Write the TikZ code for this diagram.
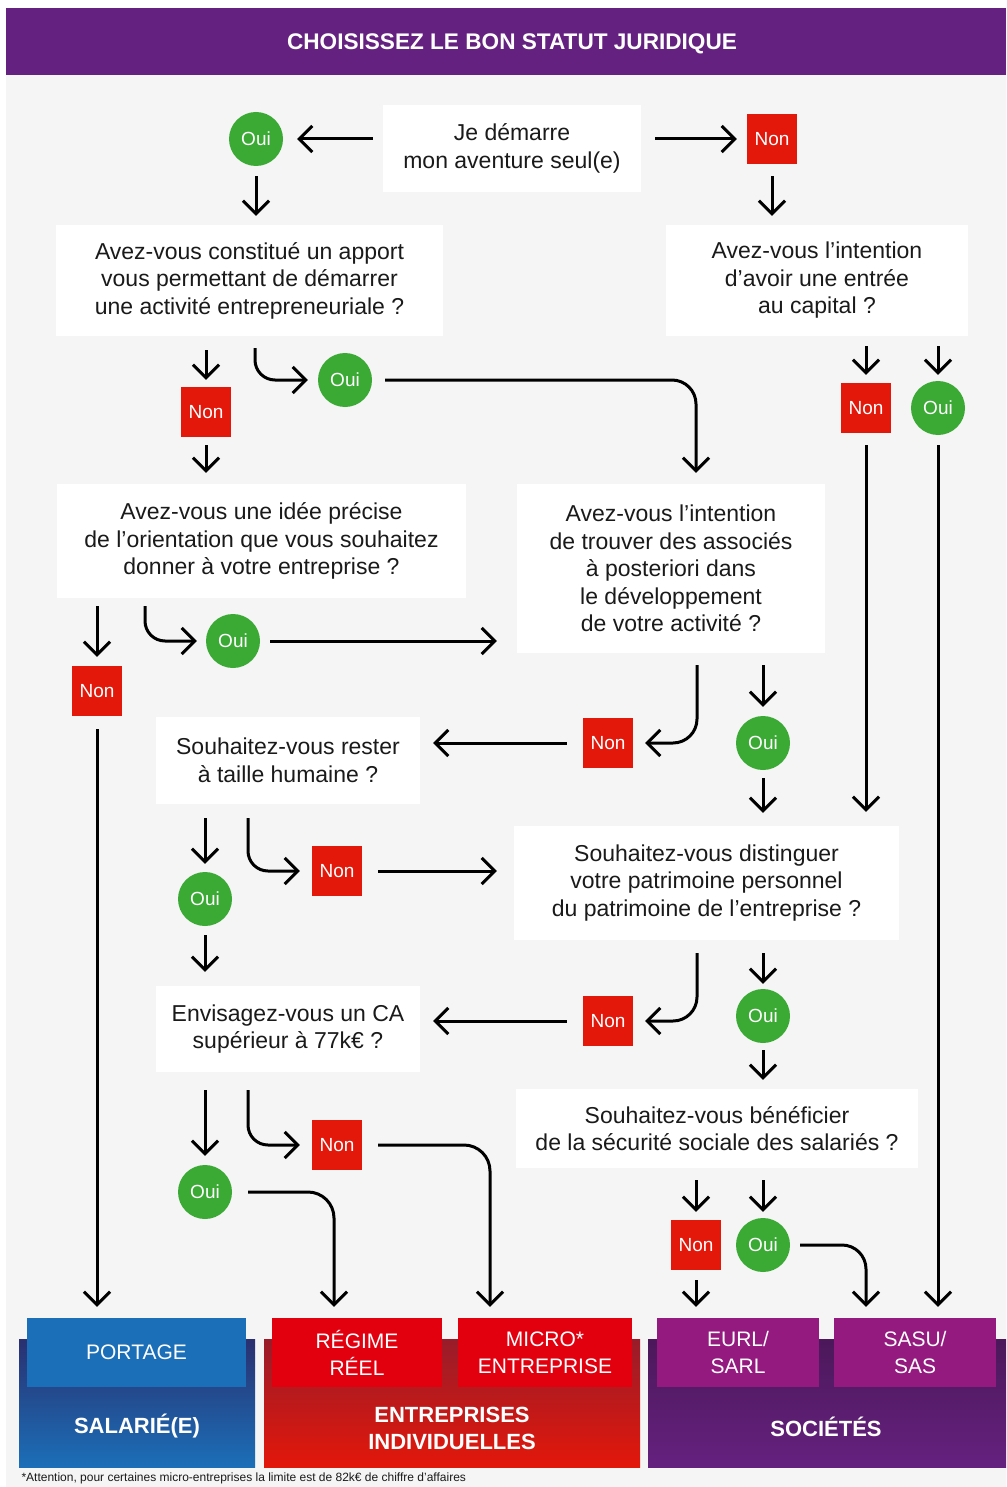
\documentclass[tikz,border=0pt]{standalone}
\usepackage{fontspec}
\setmainfont{Liberation Sans}
\usetikzlibrary{arrows.meta}
\definecolor{statutPurple}{HTML}{65217F}
\definecolor{statutGray}{HTML}{F5F5F5}
\definecolor{statutInk}{HTML}{1A1A1A}
\definecolor{statutGreen}{HTML}{3AAA35}
\definecolor{statutRed}{HTML}{E3170A}
\definecolor{statutBlue}{HTML}{1B6FB8}
\definecolor{statutNavy}{HTML}{2A3070}
\definecolor{statutCrimson}{HTML}{E2000F}
\definecolor{statutWine}{HTML}{981C2A}
\definecolor{statutViolet}{HTML}{941A80}
\definecolor{statutPlum}{HTML}{4C185A}
\tikzset{
  qbox/.style={fill=white, align=center, inner sep=0pt, text=statutInk, font=\fontsize{23}{27.5}\selectfont},
  oui/.style={circle, fill=statutGreen, minimum size=54pt, inner sep=0pt, text=white, font=\fontsize{19}{22}\selectfont},
  non/.style={fill=statutRed, minimum size=50pt, inner sep=0pt, text=white, font=\fontsize{19}{22}\selectfont},
  flow/.style={-{Straight Barb[length=13pt,width=26pt]}, line width=3pt, shorten <=12pt, shorten >=9pt},
  res/.style={minimum height=69pt, inner sep=0pt, text=white, align=center, font=\fontsize{21}{27}\selectfont},
  cat/.style={text=white, align=center, font=\bfseries\fontsize{22}{27}\selectfont},
}
\begin{document}
\begin{tikzpicture}[x=1pt, y=-1pt]
  \useasboundingbox (0,0) rectangle (1006,1487);
  % background and title
  \fill[statutGray] (6,75) rectangle (1006,1487);
  \fill[statutPurple] (6,8) rectangle (1006,75);
  \node[cat, font=\bfseries\fontsize{22.6}{26}\selectfont] (titre) at (512,44) {CHOISISSEZ LE BON STATUT JURIDIQUE};
  % questions
  \node[qbox, minimum width=258pt, minimum height=87pt] (q1) at (512,148.5) {Je démarre\\mon aventure seul(e)};
  \node[qbox, minimum width=387pt, minimum height=111pt] (q2) at (249.5,280.5) {Avez-vous constitué un apport\\vous permettant de démarrer\\une activité entrepreneuriale ?};
  \node[qbox, minimum width=302pt, minimum height=111pt] (q3) at (817,280.5) {Avez-vous l’intention\\d’avoir une entrée\\au capital ?};
  \node[qbox, minimum width=409pt, minimum height=114pt] (q4) at (261.5,541) {Avez-vous une idée précise\\de l’orientation que vous souhaitez\\donner à votre entreprise ?};
  \node[qbox, minimum width=308pt, minimum height=169pt] (q5) at (671,568.5) {Avez-vous l’intention\\de trouver des associés\\à posteriori dans\\le développement\\de votre activité ?};
  \node[qbox, minimum width=264pt, minimum height=87pt] (q6) at (288,760.5) {Souhaitez-vous rester\\à taille humaine ?};
  \node[qbox, minimum width=385pt, minimum height=114pt] (q7) at (706.5,883) {Souhaitez-vous distinguer\\votre patrimoine personnel\\du patrimoine de l’entreprise ?};
  \node[qbox, minimum width=264pt, minimum height=86pt] (q8) at (288,1029) {Envisagez-vous un CA\\supérieur à 77k€ ?};
  \node[qbox, minimum width=402pt, minimum height=79pt] (q9) at (717,1128.5) {Souhaitez-vous bénéficier\\de la sécurité sociale des salariés ?};
  % answers
  \node[oui] (o1) at (256,139) {Oui};
  \node[oui] (o2) at (345,380) {Oui};
  \node[oui] (o3) at (938,408) {Oui};
  \node[oui] (o4) at (233,641) {Oui};
  \node[oui] (o5) at (763,743) {Oui};
  \node[oui] (o6) at (205,899) {Oui};
  \node[oui] (o7) at (763,1016) {Oui};
  \node[oui] (o8) at (205,1192) {Oui};
  \node[oui] (o9) at (763,1245) {Oui};
  \node[non] (n1) at (772,139) {Non};
  \node[non] (n2) at (206,412) {Non};
  \node[non] (n3) at (866,408) {Non};
  \node[non] (n4) at (97,691) {Non};
  \node[non] (n5) at (608,743) {Non};
  \node[non] (n6) at (337,871) {Non};
  \node[non] (n7) at (608,1021) {Non};
  \node[non] (n8) at (337,1145) {Non};
  \node[non] (n9) at (696,1245) {Non};
  % categories
  \shade[top color=statutNavy, bottom color=statutBlue] (19,1339) rectangle (255,1467);
  \shade[top color=statutWine, bottom color=statutRed] (264,1339) rectangle (640,1467);
  \shade[top color=statutPlum, bottom color=statutPurple] (648,1339) rectangle (1006,1467);
  \node[cat] (salarie) at (137,1426) {SALARIÉ(E)};
  \node[cat] (indiv) at (452,1428.5) {ENTREPRISES\\INDIVIDUELLES};
  \node[cat] (societes) at (826,1427) {SOCIÉTÉS};
  \node[res, fill=statutBlue, minimum width=219pt] (r1) at (136.5,1352.5) {PORTAGE};
  \node[res, fill=statutCrimson, minimum width=170pt] (r2) at (357,1352.5) {RÉGIME\\RÉEL};
  \node[res, fill=statutCrimson, minimum width=174pt] (r3) at (545,1352.5) {MICRO*\\ENTREPRISE};
  \node[res, fill=statutViolet, minimum width=162pt] (r4) at (738,1352.5) {EURL/\\SARL};
  \node[res, fill=statutViolet, minimum width=162pt] (r5) at (915,1352.5) {SASU/\\SAS};
  \node[anchor=west, text=statutInk, font=\fontsize{12}{14}\selectfont] (note) at (18,1478) {*Attention, pour certaines micro-entreprises la limite est de 82k€ de chiffre d’affaires};
  % connectors
  \draw[flow, shorten <=10pt, shorten >=14pt] (q1.west |- o1) -- (o1);
  \draw[flow, shorten <=14pt, shorten >=10pt] (q1.east |- n1) -- (n1);
  \draw[flow, shorten <=10pt] (o1) -- (o1 |- q2.north);
  \draw[flow] (n1) -- (n1 |- q3.north);
  \draw[flow, shorten <=14pt, shorten >=7pt] (q2.south -| n2) -- (n2);
  \draw[flow, rounded corners=20pt, shorten >=10pt] ([xshift=49pt]n2.center |- q2.south) |- (o2);
  \draw[flow, rounded corners=24pt, shorten <=13pt, shorten >=11pt] (o2) -| ([xshift=25pt]q5.north);
  \draw[flow, shorten <=8pt, shorten >=11pt] (n2) -- (n2 |- q4.north);
  \draw[flow, shorten <=10pt, shorten >=8pt] (q3.south -| n3) -- (n3);
  \draw[flow, shorten <=10pt, shorten >=6pt] (q3.south -| o3) -- (o3);
  \draw[flow, shorten >=14pt] (n3) -- (n3 |- q7.north);
  \draw[flow, shorten <=10pt, shorten >=11pt] (o3) -- (o3 |- r5.north);
  \draw[flow, shorten <=8pt] (q4.south -| n4) -- (n4);
  \draw[flow, rounded corners=20pt, shorten <=8pt, shorten >=9pt] ([xshift=48pt]n4.center |- q4.south) |- (o4);
  \draw[flow, shorten <=10pt, shorten >=20pt] (o4) -- (o4 -| q5.west);
  \draw[flow, shorten <=13pt, shorten >=11pt] (n4) -- (n4 |- r1.north);
  \draw[flow, rounded corners=24pt, shorten >=12pt] ([xshift=26pt]q5.south) |- (n5);
  \draw[flow] (q5.south -| o5) -- (o5);
  \draw[flow, shorten <=8pt, shorten >=13pt] (o5) -- (o5 |- q7.north);
  \draw[flow, shorten <=16pt, shorten >=13pt] (n5) -- (n5 -| q6.east);
  \draw[flow, shorten <=14pt, shorten >=8pt] (q6.south -| o6) -- (o6);
  \draw[flow, rounded corners=20pt, shorten <=14pt, shorten >=12pt] ([xshift=43pt]o6.center |- q6.south) |- (n6);
  \draw[flow, shorten <=16pt, shorten >=17pt] (n6) -- (n6 -| q7.west);
  \draw[flow, shorten <=9pt, shorten >=14pt] (o6) -- (o6 |- q8.north);
  \draw[flow, rounded corners=24pt, shorten <=13pt, shorten >=12pt] ([xshift=-9.5pt]q7.south) |- (n7);
  \draw[flow, shorten <=13pt, shorten >=5pt] (q7.south -| o7) -- (o7);
  \draw[flow, shorten <=7pt] (o7) -- (o7 |- q9.north);
  \draw[flow, shorten <=16pt, shorten >=13pt] (n7) -- (n7 -| q8.east);
  \draw[flow, shorten <=18pt] (q8.south -| o8) -- (o8);
  \draw[flow, rounded corners=20pt, shorten <=18pt, shorten >=12pt] ([xshift=43pt]o8.center |- q8.south) |- (n8);
  \draw[flow, rounded corners=26pt, shorten <=16pt, shorten >=11pt] (o8) -| ([xshift=-23pt]r2.north);
  \draw[flow, rounded corners=26pt, shorten <=16pt, shorten >=11pt] (n8) -| ([xshift=-55pt]r3.north);
  \draw[flow, shorten >=8pt] (q9.south -| n9) -- (n9);
  \draw[flow, shorten >=6pt] (q9.south -| o9) -- (o9);
  \draw[flow, shorten <=10pt, shorten >=11pt] (n9) -- (n9 |- r4.north);
  \draw[flow, rounded corners=24pt, shorten <=10pt, shorten >=11pt] (o9) -| ([xshift=-49pt]r5.north);
\end{tikzpicture}
\end{document}
